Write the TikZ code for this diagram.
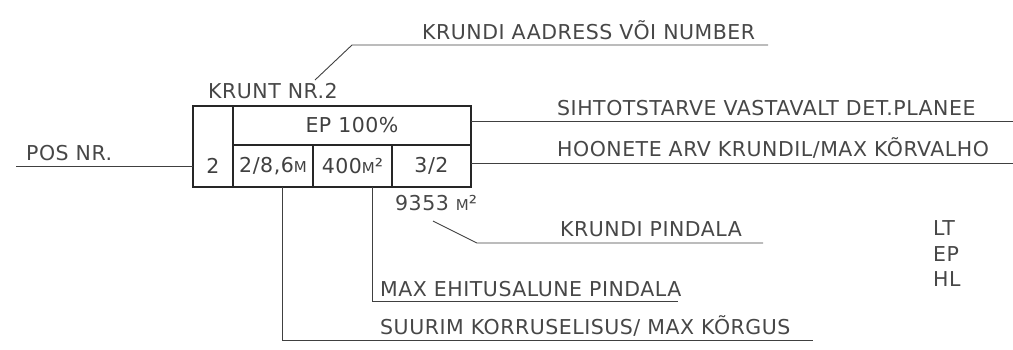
\documentclass[tikz,border=0pt]{standalone}
\usepackage{fontspec}
\setmainfont{DejaVu Sans}[LetterSpace=2.5]
\usetikzlibrary{positioning}

\newcommand{\smm}{{\fontsize{15}{15}\selectfont M}}

\begin{document}
\begin{tikzpicture}[
    x=1pt, y=-1pt,
    cell/.style={draw=black!85, line width=2.2pt, inner sep=0pt, outer sep=0pt,
      text=black!75, font=\fontsize{20.5}{20.5}\selectfont},
    lbl/.style={anchor=base west, inner sep=0pt, text=black!72,
      font=\fontsize{20.5}{20.5}\selectfont},
    leader/.style={draw=black!75, line width=0.9pt},
  ]

  \useasboundingbox (0,0) rectangle (1013,349);
  \clip (0,0) rectangle (1013,349);

  % the plot box
  \node[cell, minimum width=40pt, minimum height=81pt] (box-num) at (213,146.5) {};
  \node[cell, minimum width=238pt, minimum height=39pt, anchor=north west]
    (box-ep) at (box-num.north east) {EP 100\%};
  \node[cell, minimum width=80pt, minimum height=42pt, anchor=north west]
    (cell-a) at (box-ep.south west) {2/8,6\smm};
  \node[cell, minimum width=79pt, minimum height=42pt, anchor=north west]
    (cell-b) at (cell-a.north east) {400\smm²};
  \node[cell, minimum width=79pt, minimum height=42pt, anchor=north west]
    (cell-c) at (cell-b.north east) {3/2};
  \node[cell, draw=none] (num-lbl) at (box-num.center |- cell-a.center) {2};

  % labels
  \node[lbl] (krunt) at (208,98) {KRUNT NR.2};
  \node[lbl] (pos-lbl) at (26,160) {POS NR.};
  \node[lbl] (adr-lbl) at (422,39) {KRUNDI AADRESS VÕI NUMBER};
  \node[lbl] (siht-lbl) at (557,115) {SIHTOTSTARVE VASTAVALT DET.PLANEE};
  \node[lbl] (hoon-lbl) at (557,156) {HOONETE ARV KRUNDIL/MAX KÕRVALHO};
  \node[lbl] (area) at (395,210) {9353 \smm²};
  \node[lbl] (pind-lbl) at (560,236) {KRUNDI PINDALA};
  \node[lbl] (ehit-lbl) at (380,296) {MAX EHITUSALUNE PINDALA};
  \node[lbl] (korg-lbl) at (380,334) {SUURIM KORRUSELISUS/ MAX KÕRGUS};
  \foreach \t/\yb in {LT/235, EP/261, HL/286}
    \node[lbl] (key-\t) at (933,\yb) {\t};

  % leader lines
  \coordinate (adr-tick) at (315,80);
  \coordinate (adr-kink) at (352,45);
  \coordinate (adr-end) at (768,45);
  \draw[leader] (adr-tick) -- (adr-kink) -- (adr-end);

  \coordinate (pos-end) at (16,166);
  \draw[leader] (pos-end) -- (box-num.west |- pos-end);

  \coordinate (siht-end) at (1013,121);
  \draw[leader] (box-ep.east |- siht-end) -- (siht-end);

  \coordinate (hoon-end) at (1013,163);
  \draw[leader] (cell-c.east |- hoon-end) -- (hoon-end);

  \coordinate (pind-tick) at (433,221);
  \coordinate (pind-kink) at (477,243);
  \coordinate (pind-end) at (763,243);
  \draw[leader] (pind-tick) -- (pind-kink) -- (pind-end);

  \coordinate (ehit-top) at (372,187);
  \coordinate (ehit-kink) at (372,301);
  \coordinate (ehit-end) at (678,301);
  \draw[leader] (ehit-top) -- (ehit-kink) -- (ehit-end);

  \coordinate (korg-top) at (282,187);
  \coordinate (korg-kink) at (282,340);
  \coordinate (korg-end) at (813,340);
  \draw[leader] (korg-top) -- (korg-kink) -- (korg-end);

\end{tikzpicture}
\end{document}
